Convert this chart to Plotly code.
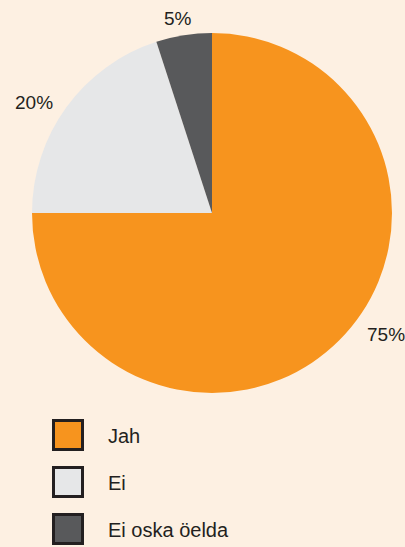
import plotly.graph_objects as go

labels = ["Jah", "Ei", "Ei oska öelda"]
values = [75, 20, 5]
colors = ["#F7941E", "#E6E7E8", "#58595B"]

BG = "#FDF0E2"
TXT = "#231F20"
W, H = 405, 547
FONT = "Liberation Sans, Arial, sans-serif"

# layout positions (pixels from top-left)
PIE_BOX = (32, 33, 392, 393)                     # left, top, right, bottom
PCT_POS = [(385.5, 334), (33.5, 102.5), (178, 18)]  # outside percentage labels
LEG_SQ_X = 68
LEG_TXT_X = 107
LEG_Y = [435, 482, 529]

fig = go.Figure()

fig.add_trace(go.Pie(
    labels=labels, values=values, sort=False, direction="clockwise", rotation=0,
    marker=dict(colors=colors, line=dict(width=0)),
    textinfo="none",
    domain=dict(x=[PIE_BOX[0] / W, PIE_BOX[2] / W],
                y=[1 - PIE_BOX[3] / H, 1 - PIE_BOX[1] / H]),
    showlegend=False, hoverinfo="label+percent",
))

# custom legend squares
fig.add_trace(go.Scatter(
    x=[LEG_SQ_X] * len(labels), y=LEG_Y, mode="markers",
    marker=dict(symbol="square", size=29, color=colors, line=dict(color=TXT, width=3)),
    showlegend=False, hoverinfo="skip", xaxis="x", yaxis="y",
))

annotations = []
total = sum(values)
for v, (px, py) in zip(values, PCT_POS):
    annotations.append(dict(
        text=f"{round(100 * v / total)}%", x=px / W, y=1 - py / H,
        xref="paper", yref="paper", xanchor="center", yanchor="middle",
        showarrow=False, font=dict(family=FONT, size=19, color=TXT),
    ))
for lab, ly in zip(labels, LEG_Y):
    annotations.append(dict(
        text=lab, x=LEG_TXT_X / W, y=1 - (ly + 1) / H,
        xref="paper", yref="paper", xanchor="left", yanchor="middle",
        showarrow=False, font=dict(family=FONT, size=20, color=TXT),
        borderpad=0,
    ))

fig.update_layout(
    width=W, height=H, margin=dict(l=0, r=0, t=0, b=0),
    paper_bgcolor=BG, plot_bgcolor="rgba(0,0,0,0)",
    xaxis=dict(range=[0, W], domain=[0, 1], visible=False, fixedrange=True),
    yaxis=dict(range=[H, 0], domain=[0, 1], visible=False, fixedrange=True),
    annotations=annotations,
)

fig.write_html("out.html", config={"displayModeBar": False},
               post_script="document.body.style.margin='0';")
